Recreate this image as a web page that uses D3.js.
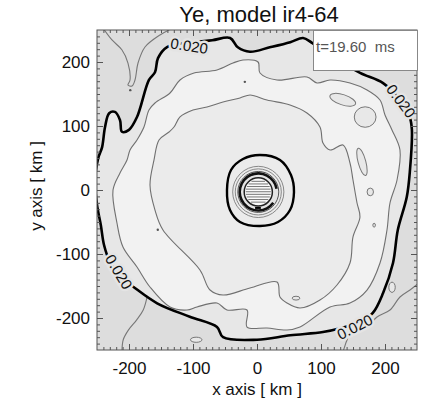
<!DOCTYPE html>
<html>
<head>
<meta charset="utf-8">
<script src="https://cdn.jsdelivr.net/npm/d3@7"></script>
<style>
  body { margin: 0; background: #fff; }
  svg { display: block; font-family: "Liberation Sans", Arial, sans-serif; }
</style>
</head>
<body>
<div class="plot"></div>
<script>
// contour lines, in km
var title = "Ye, model ir4-64";
var timeLabel = "t=19.60  ms";
var xTicks = [-200, -100, 0, 100, 200];
var yTicks = [-200, -100, 0, 100, 200];

// Ye = 0.020 (bold)
var boldContour = [[-140.6,223.4],[-154.7,206],[-159.4,184],[-168.8,172],[-187.5,114],[-200,94],[-211,91],[-214,109],
  [-222,122],[-231,120],[-237.5,98],[-242,67],[-248,50],[-253,16],[-250,-23],[-244,-55],[-239,-86],[-230,-112],
  [-214,-136],[-195,-150],[-156,-177],[-105,-198],[-62.5,-214],[-53,-230],[0,-234],[52,-227],[103,-222],[130,-216],
  [161,-206],[181,-192],[197,-161],[212.5,-114],[220,-62.5],[234,-11],[239,31],[242,94],[239,112.5],[223,141],
  [197,167],[161,183],[122,206],[86,230],[72,237.5],[52,231],[20,223],[-11,216],[-30,223],[-42,237.5],[-70,234],[-105,230]];

var outerThin = [[-37.5,198.4],[-21.9,203.1],[1.6,200],[4.7,182.8],[31.3,171.9],[78.1,176.6],[93.8,167.2],[114.1,171.9],
  [145.3,167.2],[171.9,156.3],[192.2,140.6],[200,117.2],[210.9,93.8],[223.4,62.5],[218.8,15.6],[207.8,-20.3],
  [203.1,-62.5],[192.2,-114.1],[171.9,-156.3],[145.3,-176.6],[114.1,-182.8],[67.2,-214.1],[46.9,-218.8],[15.6,-215.6],
  [-15.6,-214.1],[-15.6,-187.5],[-46.9,-187.5],[-62.5,-176.6],[-93.8,-182.8],[-109.4,-187.5],[-135.9,-182.8],
  [-167.2,-151.6],[-187.5,-120.3],[-209.4,-89.1],[-218.8,-51.6],[-225,0],[-214.1,26.6],[-203.1,46.9],[-198.4,62.5],
  [-187.5,78.1],[-176.6,98.4],[-168.8,125],[-159.4,135.9],[-135.9,151.6],[-120.3,171.9],[-98.4,182.8],[-62.5,187.5]];

var innerThin = [[-120.3,114.1],[-100,125],[-78.1,129.7],[-53.1,137.5],[-26.6,143.8],[-10.9,148.4],[15.6,140.6],
  [51.6,132.8],[78.1,120.3],[98.4,98.4],[103.1,73.4],[114.1,62.5],[134.4,70.3],[145.3,42.2],[150,15.6],[156.3,-20.3],
  [160.9,-42.2],[150,-73.4],[145.3,-114.1],[125,-148.4],[98.4,-171.9],[67.2,-184.4],[46.9,-176.6],[35.9,-167.2],
  [31.3,-143.8],[-10.9,-153.1],[-53.1,-164.1],[-73.4,-156.3],[-89.1,-125],[-146.9,-62.5],[-159.4,-31.3],
  [-167.2,7.8],[-160.9,46.9],[-153.1,78.1],[-137.5,90.6],[-129.7,98.4]];

var centralBold = [[4.7,54.7],[35.9,46.9],[53.1,23.4],[57.8,-3.1],[51.6,-31.3],[32.8,-50],[4.7,-56.3],[-26.6,-50],
  [-42.2,-31.3],[-46.9,0],[-40.6,31.3],[-21.9,48.4]];

// open thin lines outside the bold contour
var topLeftLine = [[-240.6,253],[-226.6,234.4],[-210.9,218.8],[-201.6,198.4],[-198.4,171.9],[-201.6,164],
  [-195.3,162.5],[-190.6,171.9],[-185.9,198.4],[-175,223.4],[-151.6,242.2],[-131.3,253]];
var bottomLeftLine = [[-172,-168],[-178,-188],[-188,-203],[-201,-219],[-209,-234],[-211,-253]];
var bottomRightLine = [[134.4,-253],[150,-218.8],[171.9,-214.1],[187.5,-198.4],[207.8,-187.5],[223.4,-167.2],
  [239.1,-156.3],[253,-145.3]];

// small closed islands: cx, cy, rx, ry (km), tilt (deg)
var islands = [[134,141,21,8,18],[169,114,17,16,0],[164,44,6,22,-15],[177,-3,5,6,0],[183,-55,2,3,0],
  [-95,-234,9,4,0],[61,-169,6,3,0],[211,-152,5,8,0]];
var dots = [[-19,169],[-198,156],[-155,-62]];

// core rings (radius in km)
var coreCenter = [2, -3];
var coreGrayRings = [40, 36];
var coreBlackRing = 32;
var coreDisc = 22;

// contour labels: x, y (km), angle
var contourLabels = [[-106,225,9],[225,139,53],[-216,-128,59],[153,-214,-27]];

var W = 447, H = 413;
var margin = {left: 97, top: 30};
var size = 320;

var svg = d3.select(".plot").append("svg")
    .attr("width", W).attr("height", H);

var x = d3.scaleLinear().domain([-250, 250]).range([margin.left, margin.left + size]);
var y = d3.scaleLinear().domain([-250, 250]).range([margin.top + size, margin.top]);
var kx = size / 500;

svg.append("defs").append("clipPath").attr("id", "clip")
  .append("rect").attr("x", margin.left).attr("y", margin.top).attr("width", size).attr("height", size);

var closedLine = d3.line().x(function(d){ return x(d[0]); }).y(function(d){ return y(d[1]); })
    .curve(d3.curveCatmullRomClosed.alpha(0.5));
var openLine = d3.line().x(function(d){ return x(d[0]); }).y(function(d){ return y(d[1]); })
    .curve(d3.curveCatmullRom.alpha(0.5));

var g = svg.append("g").attr("clip-path", "url(#clip)");

// fills
g.append("rect").attr("x", margin.left).attr("y", margin.top).attr("width", size).attr("height", size)
  .attr("fill", "#dddddd");
g.append("path").attr("d", closedLine(boldContour)).attr("fill", "#e7e7e7");
g.append("path").attr("d", closedLine(outerThin)).attr("fill", "#f2f2f2");
g.append("path").attr("d", closedLine(innerThin)).attr("fill", "#ebebeb");
g.append("path").attr("d", closedLine(centralBold)).attr("fill", "#ebebeb");

g.selectAll(".island").data(islands).enter().append("ellipse")
  .attr("class", "island")
  .attr("transform", function(d){ return "translate(" + x(d[0]) + "," + y(d[1]) + ") rotate(" + d[4] + ")"; })
  .attr("rx", function(d){ return d[2] * kx; })
  .attr("ry", function(d){ return d[3] * kx; })
  .attr("fill", "#e8e8e8").attr("stroke", "#777").attr("stroke-width", 1);

g.selectAll(".dot").data(dots).enter().append("circle")
  .attr("cx", function(d){ return x(d[0]); }).attr("cy", function(d){ return y(d[1]); })
  .attr("r", 1.2).attr("fill", "#555");

// thin lines
g.append("path").attr("d", closedLine(innerThin)).attr("fill", "none").attr("stroke", "#707070").attr("stroke-width", 1.1);
g.append("path").attr("d", closedLine(outerThin)).attr("fill", "none").attr("stroke", "#707070").attr("stroke-width", 1.1);
[topLeftLine, bottomLeftLine, bottomRightLine].forEach(function(l){
  g.append("path").attr("d", openLine(l)).attr("fill", "none").attr("stroke", "#777").attr("stroke-width", 1.1);
});

// bold 0.020
g.append("path").attr("d", closedLine(boldContour)).attr("fill", "none").attr("stroke", "#000").attr("stroke-width", 2.6);
g.append("path").attr("d", closedLine(centralBold)).attr("fill", "none").attr("stroke", "#000").attr("stroke-width", 2.4);

// core
var cx = x(coreCenter[0]), cy = y(coreCenter[1]);
var core = g.append("g").attr("transform", "translate(" + cx + "," + cy + ")");
coreGrayRings.forEach(function(r){
  core.append("circle").attr("r", r * kx).attr("fill", "none").attr("stroke", "#888").attr("stroke-width", 1);
});
core.append("circle").attr("r", coreBlackRing * kx).attr("fill", "#e4e4e4").attr("stroke", "#555").attr("stroke-width", 1);
core.append("path")
  .attr("d", d3.arc()({innerRadius: (coreBlackRing - 5) * kx, outerRadius: (coreBlackRing - 1) * kx,
                      startAngle: 2.2, endAngle: 2 * Math.PI + 1.4}))
  .attr("fill", "#111");
core.append("circle").attr("r", coreDisc * kx).attr("fill", "#fafafa").attr("stroke", "#222").attr("stroke-width", 1.5);
var rd = coreDisc * kx - 1.5;
core.selectAll(".stripe").data(d3.range(-rd + 2, rd - 1, 2.6)).enter().append("line")
  .attr("x1", function(d){ return -Math.sqrt(rd * rd - d * d); })
  .attr("x2", function(d){ return Math.sqrt(rd * rd - d * d); })
  .attr("y1", function(d){ return d; }).attr("y2", function(d){ return d; })
  .attr("stroke", "#666").attr("stroke-width", 0.9);
g.append("line")
  .attr("x1", x(-3)).attr("x2", x(6)).attr("y1", y(-28)).attr("y2", y(-28))
  .attr("stroke", "#000").attr("stroke-width", 2);

// contour labels
g.selectAll(".clabel").data(contourLabels).enter().append("text")
  .attr("transform", function(d){ return "translate(" + x(d[0]) + "," + y(d[1]) + ") rotate(" + d[2] + ")"; })
  .attr("text-anchor", "middle").attr("dy", "0.35em")
  .attr("font-size", 15)
  .attr("stroke", "#e4e4e4").attr("stroke-width", 5).attr("paint-order", "stroke")
  .attr("fill", "#111")
  .text("0.020");

// axes: ticks inside
var minor = d3.range(-240, 250, 10).filter(function(v){ return v % 100 !== 0; });
function axisSet(axisFn, scale, ticks, showLabels, pad){
  var major = axisFn(scale).tickValues(ticks).tickSizeInner(-6).tickSizeOuter(0).tickPadding(pad)
    .tickFormat(showLabels ? function(d){ return String(d); } : "");
  var mn = axisFn(scale).tickValues(minor).tickSizeInner(-3).tickSizeOuter(0).tickFormat("");
  return [major, mn];
}
function drawAxis(axes, transform){
  axes.forEach(function(a){
    var ag = svg.append("g").attr("transform", transform).call(a);
    ag.select(".domain").remove();
    ag.selectAll("line").attr("stroke", "#555");
    ag.selectAll("text").attr("font-size", 17).attr("font-family", "Liberation Sans, Arial, sans-serif").attr("fill", "#111");
  });
}
drawAxis(axisSet(d3.axisBottom, x, xTicks, true, 12), "translate(0," + (margin.top + size) + ")");
drawAxis(axisSet(d3.axisTop, x, xTicks, false, 3), "translate(0," + margin.top + ")");
drawAxis(axisSet(d3.axisLeft, y, yTicks, true, 7), "translate(" + margin.left + ",0)");
drawAxis(axisSet(d3.axisRight, y, yTicks, false, 3), "translate(" + (margin.left + size) + ",0)");

svg.append("rect").attr("x", margin.left).attr("y", margin.top).attr("width", size).attr("height", size)
  .attr("fill", "none").attr("stroke", "#555").attr("stroke-width", 1);

// legend box
svg.append("rect").attr("x", 313.5).attr("y", 30.5).attr("width", 104).attr("height", 40)
  .attr("fill", "#fff").attr("stroke", "#888").attr("stroke-width", 1);
svg.append("text").attr("x", 316).attr("y", 52).attr("font-size", 15)
  .attr("fill", "#555").attr("xml:space", "preserve").style("white-space", "pre")
  .text(timeLabel);

// titles
svg.append("text").attr("x", 259).attr("y", 22).attr("text-anchor", "middle")
  .attr("font-size", 22).attr("fill", "#111").text(title);
svg.append("text").attr("x", 257).attr("y", 395).attr("text-anchor", "middle")
  .attr("font-size", 17).attr("fill", "#111").text("x axis [ km ]");
svg.append("text").attr("transform", "translate(42,186) rotate(-90)").attr("text-anchor", "middle")
  .attr("font-size", 17).attr("fill", "#111").text("y axis [ km ]");
</script>
</body>
</html>
